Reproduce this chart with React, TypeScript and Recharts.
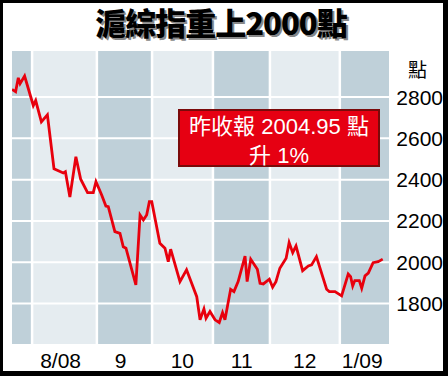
import { LineChart, Line, XAxis, YAxis, CartesianGrid, ReferenceArea, ReferenceLine } from 'recharts'

// trading-day position (from start of chart) and index close
const days = [
  0, 1.2, 2.1, 2.7, 4.2, 7.1, 7.9, 9.8, 11.8, 14, 17.1, 17.8, 19.3, 21.3, 22.9, 25.2, 27.1, 28,
  29.9, 31.3, 32.1, 34.3, 36, 37.1, 38, 41.3, 42.7, 43.8, 44.9, 45.8, 46.6, 48, 49.3, 51, 52.1,
  52.9, 56, 58.2, 61.6, 62.7, 64, 64.7, 66, 67.7, 69.1, 70.2, 71, 72.9, 74, 75.4, 77.7, 78.4,
  79.6, 81.8, 82.7, 83.8, 85.8, 86.9, 88, 89.3, 91.4, 92.4, 93.6, 94.7, 96.9, 98.8, 99.9, 101.5,
  104.9, 105.8, 107.7, 109.9, 112.1, 112.9, 113.6, 114.3, 115.8, 116.6, 117.7, 118.8, 120.4,
  122.1, 123.6,
]
const closes = [
  2837, 2826, 2893, 2865, 2902, 2759, 2783, 2680, 2714, 2453, 2432, 2438, 2316, 2511, 2402, 2337,
  2337, 2390, 2326, 2272, 2269, 2148, 2140, 2075, 2068, 1890, 2229, 2205, 2229, 2293, 2293, 2189,
  2092, 2068, 2003, 2063, 1906, 1963, 1833, 1721, 1774, 1729, 1761, 1721, 1708, 1756, 1721, 1869,
  1858, 1906, 2030, 1906, 2014, 1966, 1898, 1895, 1918, 1879, 1906, 1971, 2019, 2095, 2046, 2079,
  1959, 1982, 1987, 2027, 1869, 1858, 1858, 1837, 1943, 1930, 1885, 1911, 1911, 1874, 1934, 1947,
  1998, 2003, 2015,
]

const monthStarts = [6.7, 28.3, 46.7, 67, 86, 109.3]
const monthLabelAt = [16.2, 36.2, 56.8, 76.6, 97.6, 116.8]
const monthLabels = ['8/08', '9', '10', '11', '12', '1/09']
const darkBands: Array<[number, number]> = [[0, 6.7], [28.3, 46.7], [67, 86], [109.3, 125.7]]
const yTicks = [1800, 2000, 2200, 2400, 2600, 2800]

const data = days.map((d, i) => ({ day: d, close: closes[i] }))

const FONT = '"Liberation Sans", Arial, sans-serif'
const CJK = '"Noto Sans CJK TC", "Noto Sans CJK SC", sans-serif'

const YTick = ({ y, payload }: any) => (
  <text x={440} y={y} textAnchor="end" dominantBaseline="central" fontSize={21} fontFamily={FONT} fill="#000">
    {payload.value}
  </text>
)

const XTick = ({ x, payload }: any) => (
  <text x={x} y={360} textAnchor="middle" dominantBaseline="central" fontSize={21} fontFamily={FONT} fill="#000">
    {monthLabels[monthLabelAt.indexOf(payload.value)]}
  </text>
)

export default function App() {
  return (
    <div style={{ position: 'absolute', left: 0, top: 0, width: 448, height: 376, background: '#000' }}>
      <div style={{ position: 'absolute', left: 3, top: 3, width: 440, height: 368, background: '#fff' }} />
      <div
        style={{
          position: 'absolute', left: 0, top: 4, width: 442, textAlign: 'center',
          fontFamily: CJK, fontWeight: 900, fontSize: 31, lineHeight: '36px', color: '#000',
          letterSpacing: -1, textShadow: '2px 2px 0 #888',
        }}
      >
        滬綜指重上2000點
      </div>
      <div style={{ position: 'absolute', left: 3, top: 0 }}>
        <LineChart width={440} height={376} data={data} margin={{ top: 51, right: 0, left: 9, bottom: 5 }}>
          <CartesianGrid horizontal={false} vertical={false} fill="#e5ecf0" />
          {darkBands.map(([a, b], i) => (
            <ReferenceArea key={i} x1={a} x2={b} fill="#bfd0d9" fillOpacity={1} stroke="none" ifOverflow="hidden" />
          ))}
          {yTicks.map((v) => (
            <ReferenceLine key={v} y={v} stroke="#fff" strokeWidth={2} />
          ))}
          {monthStarts.map((m) => (
            <ReferenceLine key={m} x={m} stroke="#fff" strokeWidth={2.5} />
          ))}
          <XAxis
            dataKey="day"
            type="number"
            domain={[0, 125.7]}
            ticks={monthLabelAt}
            axisLine={false}
            tickLine={false}
            height={27}
            tick={<XTick />}
            allowDataOverflow
          />
          <YAxis
            orientation="right"
            domain={[1604, 3023]}
            ticks={yTicks}
            axisLine={false}
            tickLine={false}
            width={54}
            tick={<YTick />}
            allowDataOverflow
          />
          <Line
            type="linear"
            dataKey="close"
            stroke="#e8000d"
            strokeWidth={2.8}
            dot={false}
            isAnimationActive={false}
          />
        </LineChart>
      </div>
      <div
        style={{
          position: 'absolute', left: 408, top: 58, fontFamily: CJK, fontSize: 19, lineHeight: '22px', color: '#000',
        }}
      >
        點
      </div>
      <div
        style={{
          position: 'absolute', left: 178, top: 109, width: 198, height: 54, background: '#e60012',
          border: '2px solid #7a0a0a', color: '#fff', textAlign: 'center', fontFamily: FONT, fontSize: 22,
          lineHeight: '27px',
        }}
      >
        <div>
          <span style={{ fontFamily: CJK }}>昨收報</span> 2004.95 <span style={{ fontFamily: CJK }}>點</span>
        </div>
        <div>
          <span style={{ fontFamily: CJK }}>升</span> 1%
        </div>
      </div>
    </div>
  )
}
